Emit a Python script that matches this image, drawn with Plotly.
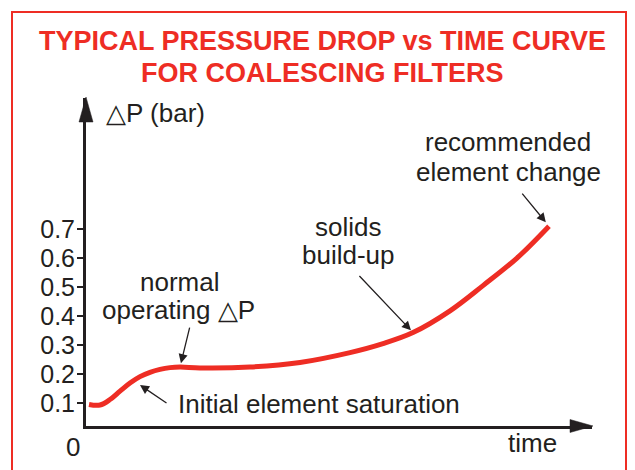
import plotly.graph_objects as go

# ---- data ----
time = [0.6, 2.8, 4.8, 6.8, 8.8, 10.8, 12.8, 14.8, 16.8, 18.8, 22.8, 32.8,
        42.8, 52.8, 59.4, 65.4, 72.8, 79.4, 86.2, 92.6]
dp = [0.095, 0.093, 0.112, 0.141, 0.169, 0.191, 0.206, 0.216, 0.222, 0.224,
      0.221, 0.224, 0.240, 0.274, 0.305, 0.343, 0.418, 0.505, 0.600, 0.710]
tick_vals = [0.1, 0.2, 0.3, 0.4, 0.5, 0.6, 0.7]
tick_text = ["0.1", "0.2", "0.3", "0.4", "0.5", "0.6", "0.7"]
title_lines = ["TYPICAL PRESSURE DROP vs TIME CURVE", "FOR COALESCING FILTERS"]

# page body has an 8px margin: figure starts at window (8, 8)
OFF = 8
W, H = 635 - OFF, 470 - OFF
L, T = 86 - OFF, 98 - OFF
R = W - (592 - OFF)
B = H - (426 - OFF)
X_RANGE = [0, 101.2]
Y_RANGE = [0.0207, 1.152]

RED = "#ee2d24"
INK = "#231f20"
FONT = "Liberation Sans, Arial, Helvetica, sans-serif"

def px(x):
    return (x - OFF - L) / (W - L - R)

def py(y):
    return (H - B - (y - OFF)) / (H - T - B)

fig = go.Figure()
fig.add_trace(go.Scatter(
    x=time, y=dp, mode="lines",
    line=dict(color=RED, width=5, shape="spline", smoothing=1.0),
    hoverinfo="skip", showlegend=False,
))

ann = []
def text(t, x, y, size=26, color=INK, xanchor="center", bold=False):
    ann.append(dict(text=f"<b>{t}</b>" if bold else t, x=px(x), y=py(y),
                    xref="paper", yref="paper", xanchor=xanchor, yanchor="middle",
                    showarrow=False, font=dict(size=size, color=color, family=FONT)))

text(title_lines[0], 322, 41, size=27, color=RED, bold=True)
text(title_lines[1], 322, 73, size=27, color=RED, bold=True)
text("△P (bar)", 104, 113, xanchor="left")
text("recommended", 508, 142)
text("element change", 508, 172)
text("solids", 348, 227)
text("build-up", 348, 255)
text("normal", 179, 282)
text("operating △P", 178, 310)
text("Initial element saturation", 176, 404, xanchor="left")
text("time", 532, 443)
text("0", 73, 447)

def arrow(x, y, ax, ay, standoff=0):
    ann.append(dict(text="", x=x, y=y, xref="x", yref="y", ax=ax, ay=ay,
                    showarrow=True, arrowhead=2, arrowsize=1.4, arrowwidth=1.3,
                    arrowcolor=INK, standoff=standoff))

arrow(time[-1], dp[-1], -28, -34, standoff=5)
arrow(time[15], dp[15], -55, -58, standoff=3)
arrow(time[9], dp[9], 10, -41, standoff=4)
arrow(10.8, 0.162, 28, 19)

shapes = [
    # red frame (left/top/right edges)
    dict(type="path", xref="paper", yref="paper",
         path=(f"M {px(12)} {py(485)} L {px(12)} {py(12)} "
               f"L {px(626)} {py(12)} L {px(626)} {py(485)}"),
         line=dict(color=RED, width=2), layer="below"),
    # y arrow head
    dict(type="path", xref="paper", yref="paper",
         path=f"M {px(86)} {py(97)} L {px(93)} {py(122)} L {px(79)} {py(122)} Z",
         fillcolor=INK, line=dict(color=INK, width=0.5)),
    # x arrow head
    dict(type="path", xref="paper", yref="paper",
         path=f"M {px(593)} {py(426)} L {px(570)} {py(432.5)} L {px(570)} {py(419.5)} Z",
         fillcolor=INK, line=dict(color=INK, width=0.5)),
]

fig.update_layout(
    width=W, height=H,
    margin=dict(l=L, r=R, t=T, b=B, pad=0),
    paper_bgcolor="white", plot_bgcolor="white",
    font=dict(family=FONT, color=INK, size=25),
    annotations=ann, shapes=shapes,
    xaxis=dict(range=X_RANGE, showgrid=False, zeroline=False, showline=True,
               linecolor=INK, linewidth=3, showticklabels=False, ticks="",
               fixedrange=True),
    yaxis=dict(range=Y_RANGE, showgrid=False, zeroline=False, showline=True,
               linecolor=INK, linewidth=3, tickvals=tick_vals, ticktext=tick_text,
               ticks="outside", ticklen=6, tickwidth=2, tickcolor=INK,
               ticklabelstandoff=-3,
               tickfont=dict(size=25, color=INK, family=FONT), fixedrange=True),
)

fig.write_html("out.html")
